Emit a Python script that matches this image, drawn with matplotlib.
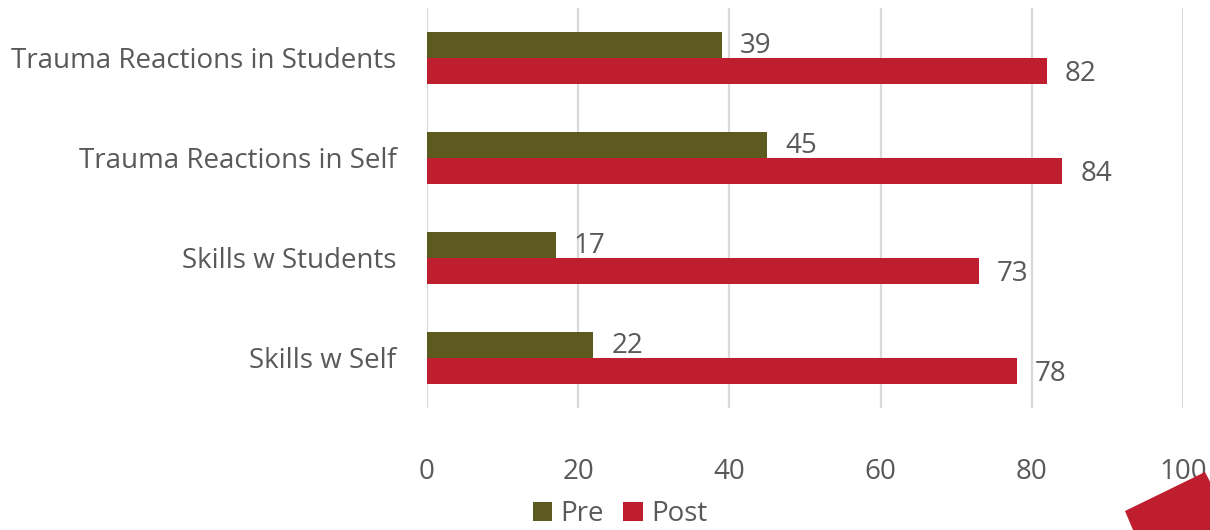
import matplotlib.pyplot as plt
import numpy as np
from matplotlib.patches import Polygon

categories = ['Trauma Reactions in Students', 'Trauma Reactions in Self',
              'Skills w Students', 'Skills w Self']
pre = [39, 45, 17, 22]
post = [82, 84, 73, 78]
x_ticks = [0, 20, 40, 60, 80, 100]

pre_color = '#5c5a1e'
post_color = '#be1e2d'
text_color = '#595959'

plt.rcParams['font.family'] = ['Open Sans', 'DejaVu Sans']

fig = plt.figure(figsize=(12.1, 5.3), dpi=100)
ax = fig.add_axes([0.3529, 0.2302, 0.6248, 0.7548])

y = np.arange(len(categories))
h = 0.26
bars_pre = ax.barh(y - h / 2, pre, height=h, color=pre_color, label='Pre')
bars_post = ax.barh(y + h / 2, post, height=h, color=post_color, label='Post')

# value labels right of each bar
for bars, vals, dy in ((bars_pre, pre, 0.01), (bars_post, post, 0.03)):
    for b, v in zip(bars, vals):
        ax.text(b.get_width() + 2.4, b.get_y() + b.get_height() / 2 + dy, str(v),
                ha='left', va='center', fontsize=20, color=text_color)

ax.set_xlim(0, 100)
ax.set_ylim(3.5, -0.5)
ax.set_xticks(x_ticks)
ax.set_yticks(y)
ax.set_yticklabels(categories)
ax.tick_params(axis='both', length=0, labelsize=20, labelcolor=text_color)
ax.tick_params(axis='x', pad=36)
ax.tick_params(axis='y', pad=22)
ax.grid(axis='x', color='#d9d9d9', linewidth=1.6)
ax.set_axisbelow(True)
for s in ax.spines.values():
    s.set_visible(False)

fig.legend(handles=[bars_pre, bars_post], labels=['Pre', 'Post'], loc='center',
           bbox_to_anchor=(620 / 1210, 1 - 514 / 530), ncol=2, frameon=False,
           fontsize=20, labelcolor=text_color, handlelength=0.7, handleheight=0.7,
           handletextpad=0.3, columnspacing=0.7, borderaxespad=0, borderpad=0)

# red corner decoration from the slide
pts = [(1125, 511), (1205, 472), (1235, 530), (1133, 530)]
fig.patches.append(Polygon([(px / 1210, 1 - py / 530) for px, py in pts],
                           closed=True, transform=fig.transFigure,
                           facecolor=post_color, edgecolor='none'))

fig.savefig('out.png', dpi=100)
